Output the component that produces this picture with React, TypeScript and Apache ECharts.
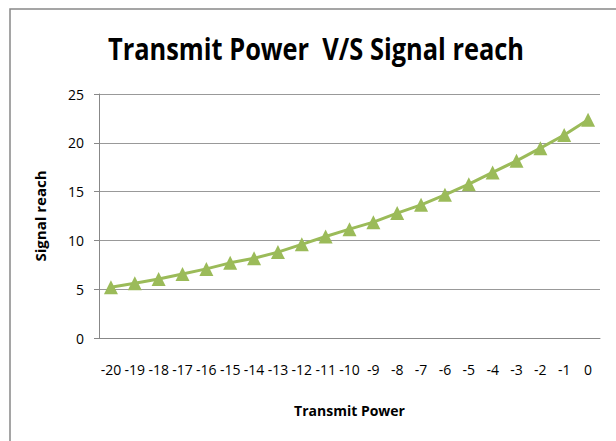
import React, { useEffect, useRef } from "react";
import * as echarts from "echarts";

const categories: string[] = ["-20","-19","-18","-17","-16","-15","-14","-13","-12","-11","-10","-9","-8","-7","-6","-5","-4","-3","-2","-1","0"];
const signalReach: number[] = [5.2,5.6,6.05,6.56,7.08,7.7,8.17,8.8,9.6,10.4,11.15,11.87,12.8,13.64,14.67,15.76,16.96,18.15,19.45,20.8,22.36];
const yTicks = { min: 0, max: 25, interval: 5 };
const titleText = "Transmit Power  V/S Signal reach";

const FONT = '"Open Sans", sans-serif';

export default function App() {
  const ref = useRef<HTMLDivElement>(null);
  useEffect(() => {
    if (!ref.current) return;
    const chart = echarts.init(ref.current, undefined, { renderer: "svg" });
    chart.setOption({
      animation: false,
      backgroundColor: "#ffffff",
      graphic: [
        {
          type: "rect",
          shape: { x: 10, y: 9, width: 640, height: 460 },
          style: { fill: "none", stroke: "#888", lineWidth: 1.5 },
          silent: true,
        },
        {
          type: "text",
          x: 316,
          y: 48,
          scaleX: 0.82,
          style: {
            text: titleText,
            fontFamily: FONT,
            fontWeight: "bold",
            fontSize: 31,
            fill: "#000",
            align: "center",
            verticalAlign: "middle",
          },
        },
      ],
      grid: { left: 99, right: 16, top: 94, bottom: 103, containLabel: false },
      xAxis: {
        type: "category",
        data: categories,
        boundaryGap: true,
        axisLine: { show: true, lineStyle: { color: "#888" } },
        axisTick: { show: false },
        axisLabel: { fontFamily: FONT, fontSize: 14, color: "#000", margin: 24, interval: 0 },
        name: "Transmit Power",
        nameLocation: "middle",
        nameGap: 65,
        nameTextStyle: { fontFamily: FONT, fontWeight: "bold", fontSize: 14, color: "#000" },
      },
      yAxis: {
        type: "value",
        min: yTicks.min,
        max: yTicks.max,
        interval: yTicks.interval,
        axisLine: { show: true, lineStyle: { color: "#888" } },
        axisTick: { show: true, length: 5, lineStyle: { color: "#888" } },
        splitLine: { lineStyle: { color: "#999" } },
        axisLabel: { fontFamily: FONT, fontSize: 14, color: "#000", margin: 15 },
        name: "Signal reach",
        nameLocation: "middle",
        nameGap: 52,
        nameTextStyle: { fontFamily: FONT, fontWeight: "bold", fontSize: 15, color: "#000" },
      },
      series: [
        {
          type: "line",
          data: signalReach,
          symbol: "triangle",
          symbolSize: 14,
          lineStyle: { color: "#9BBB59", width: 3 },
          itemStyle: { color: "#9BBB59" },
        },
      ],
    });
    return () => chart.dispose();
  }, []);
  return (
    <div
      ref={ref}
      style={{ position: "fixed", left: 0, top: 0, width: 616, height: 441 }}
    />
  );
}
